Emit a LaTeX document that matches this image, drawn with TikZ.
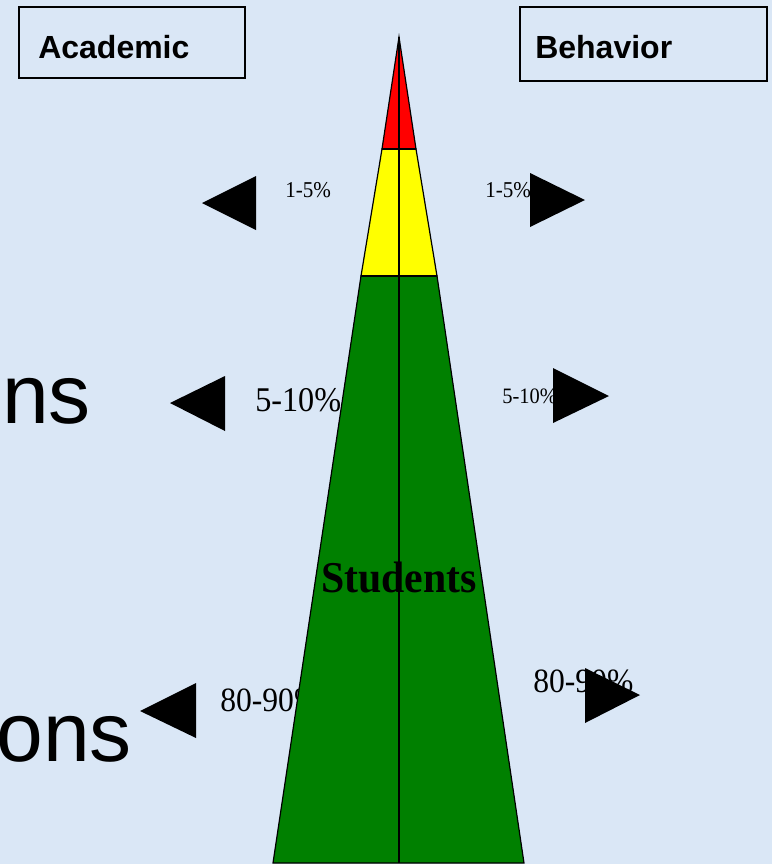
\documentclass[tikz,border=0pt]{standalone}
\usepackage{fontspec}
\setmainfont{Liberation Serif}
\setsansfont{Liberation Sans}
\definecolor{bgblue}{HTML}{DAE7F6}
\definecolor{tipred}{HTML}{FF0000}
\definecolor{midyellow}{HTML}{FFFF00}
\definecolor{basegreen}{HTML}{008000}
\newcommand{\narrow}[1]{\scalebox{0.93}[1]{#1}}
\tikzset{
  lbl/.style={inner sep=0pt, anchor=base west},
  lblr/.style={inner sep=0pt, anchor=base east},
  head/.style={lbl, font={\sffamily\bfseries\fontsize{24}{28}\selectfont}},
  big/.style={lblr, font={\sffamily\fontsize{63}{70}\selectfont}},
}

\begin{document}
\begin{tikzpicture}[x=0.75pt, y=-0.75pt]
    % Hintergrund
    \fill[bgblue] (0,0) rectangle (772,864);
    \useasboundingbox (0,0) rectangle (772,864);

    % Kaesten oben
    \draw[line width=1.1pt] (19,7) rectangle (245,78);
    \node[head] (acad) at (38,58) {Academic};
    \draw[line width=1.1pt] (520,7) rectangle (767,81);
    \node[head] (behav) at (535,58) {Behavior};

    % abgeschnittene Texte links
    \node[big] (ns) at (91,423) {ns};
    \node[big] (ons) at (132,761) {ons};

    % Prozente links
    \node[lbl, font=\fontsize{17}{18}\selectfont] (acadA) at (285,197) {\narrow{1-5\%}};
    \node[lbl, font=\fontsize{26}{28}\selectfont] (acadB) at (255,411) {\narrow{5-10\%}};
    \node[lbl, font=\fontsize{25.5}{28}\selectfont] (acadC) at (220,711) {\narrow{80-90\%}};

    % Prozente rechts
    \node[lbl, font=\fontsize{17}{18}\selectfont] (behavA) at (485,197) {\narrow{1-5\%}};
    \node[lbl, font=\fontsize{16.5}{18}\selectfont] (behavB) at (502,403) {\narrow{5-10\%}};
    \node[lbl, font=\fontsize{25.5}{28}\selectfont] (behavC) at (533,692) {\narrow{80-90\%}};

    % Dreiecke links
    \fill (256,176) -- (202,203) -- (256,230) -- cycle;
    \fill (225,376) -- (170,403) -- (225,431) -- cycle;
    \fill (196,683) -- (140,711) -- (196,738) -- cycle;

    % Dreiecke rechts
    \fill (530,173) -- (585,200) -- (530,227) -- cycle;
    \fill (553,368) -- (609,396) -- (553,423) -- cycle;
    \fill (585,668) -- (640,695) -- (585,723) -- cycle;

    % Pyramide
    \filldraw[fill=tipred, line width=0.9pt] (399,37) -- (382,149) -- (416,149) -- cycle;
    \filldraw[fill=midyellow, line width=0.9pt] (382,149) -- (361,276) -- (437,276) -- (416,149) -- cycle;
    \filldraw[fill=basegreen, line width=0.9pt] (361,276) -- (273,863) -- (524,863) -- (437,276) -- cycle;
    \draw[line width=2.2pt] (382,149) -- (416,149);
    \draw[line width=2.2pt] (361,276) -- (437,276);
    \draw[line width=1.5pt] (399,37) -- (399,863);

    % Beschriftung
    \node[inner sep=0pt, anchor=base, font={\bfseries\fontsize{33}{36}\selectfont}] (stud) at (399,592) {\scalebox{0.95}[1]{Students}};
\end{tikzpicture}
\end{document}
